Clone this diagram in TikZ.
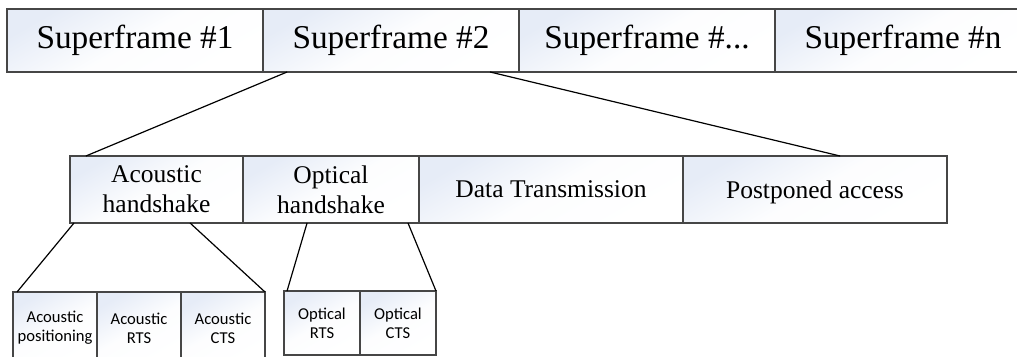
\documentclass[tikz,border=0pt]{standalone}
\usepackage{fontspec}
\setmainfont{Liberation Serif}
\newfontfamily\calibri{Carlito}
\usetikzlibrary{calc}
\definecolor{boxblue}{RGB}{230,236,247}
\definecolor{boxline}{RGB}{70,70,70}
\tikzset{
  framebox/.style={draw=boxline, line width=1.2pt, inner sep=0pt, outer sep=0pt,
    top color=boxblue, bottom color=white, middle color=white!90!boxblue,
    shading angle=30, align=center},
  superbox/.style={framebox, minimum width=256pt, minimum height=63pt,
    font=\fontsize{33.3}{38}\selectfont},
  slotbox/.style={framebox, minimum height=67pt,
    font=\fontsize{25.5}{30}\selectfont},
  subbox/.style={framebox, minimum width=84pt, minimum height=72pt,
    font=\calibri\fontsize{16.6}{19}\selectfont},
  link/.style={line width=1.2pt, black}
}
\begin{document}
\begin{tikzpicture}[x=1pt,y=-1pt]
 \useasboundingbox (0,0) rectangle (1017,356);
 \clip (0,0) rectangle (1017,356);
 % superframes
 \node[superbox] (sf1) at (135,40.5) {Superframe \#1};
 \node[superbox] (sf2) at (391,40.5) {Superframe \#2};
 \node[superbox] (sf3) at (647,40.5) {Superframe \#...};
 \node[superbox] (sfn) at (903,40.5) {Superframe \#n};
 % phases of one superframe
 \node[slotbox, minimum width=173pt] (ah) at (156.5,189.5) {Acoustic\\handshake};
 \node[slotbox, minimum width=176pt] (oh) at (331,189.5) {Optical\\handshake};
 \node[slotbox, minimum width=264pt, text depth=0pt] (dt) at (551,189.5) {Data Transmission};
 \node[slotbox, minimum width=264pt, text depth=0pt] (pa) at (815,189.5) {Postponed access};
 % handshake steps
 \node[subbox] (apos) at (55,328) {Acoustic\\positioning};
 \node[subbox] (arts) at (139,328) {Acoustic\\RTS};
 \node[subbox] (acts) at (223,328) {Acoustic\\CTS};
 \node[subbox, minimum width=76pt, minimum height=64pt] (orts) at (322,323) {Optical\\RTS};
 \node[subbox, minimum width=76pt, minimum height=64pt] (octs) at (398,323) {Optical\\CTS};
 % zoom lines
 \draw[link] ($(sf2.south west)!0.094!(sf2.south east)$) -- ($(ah.north west)!0.092!(ah.north east)$);
 \draw[link] ($(sf2.south west)!0.887!(sf2.south east)$) -- ($(pa.north west)!0.595!(pa.north east)$);
 \draw[link] ($(ah.south west)!0.023!(ah.south east)$) -- ($(apos.north west)!0.048!(apos.north east)$);
 \draw[link] ($(ah.south west)!0.694!(ah.south east)$) -- (acts.north east);
 \draw[link] ($(oh.south west)!0.364!(oh.south east)$) -- ($(orts.north west)!0.04!(orts.north east)$);
 \draw[link] ($(oh.south west)!0.9375!(oh.south east)$) -- (octs.north east);
\end{tikzpicture}
\end{document}
